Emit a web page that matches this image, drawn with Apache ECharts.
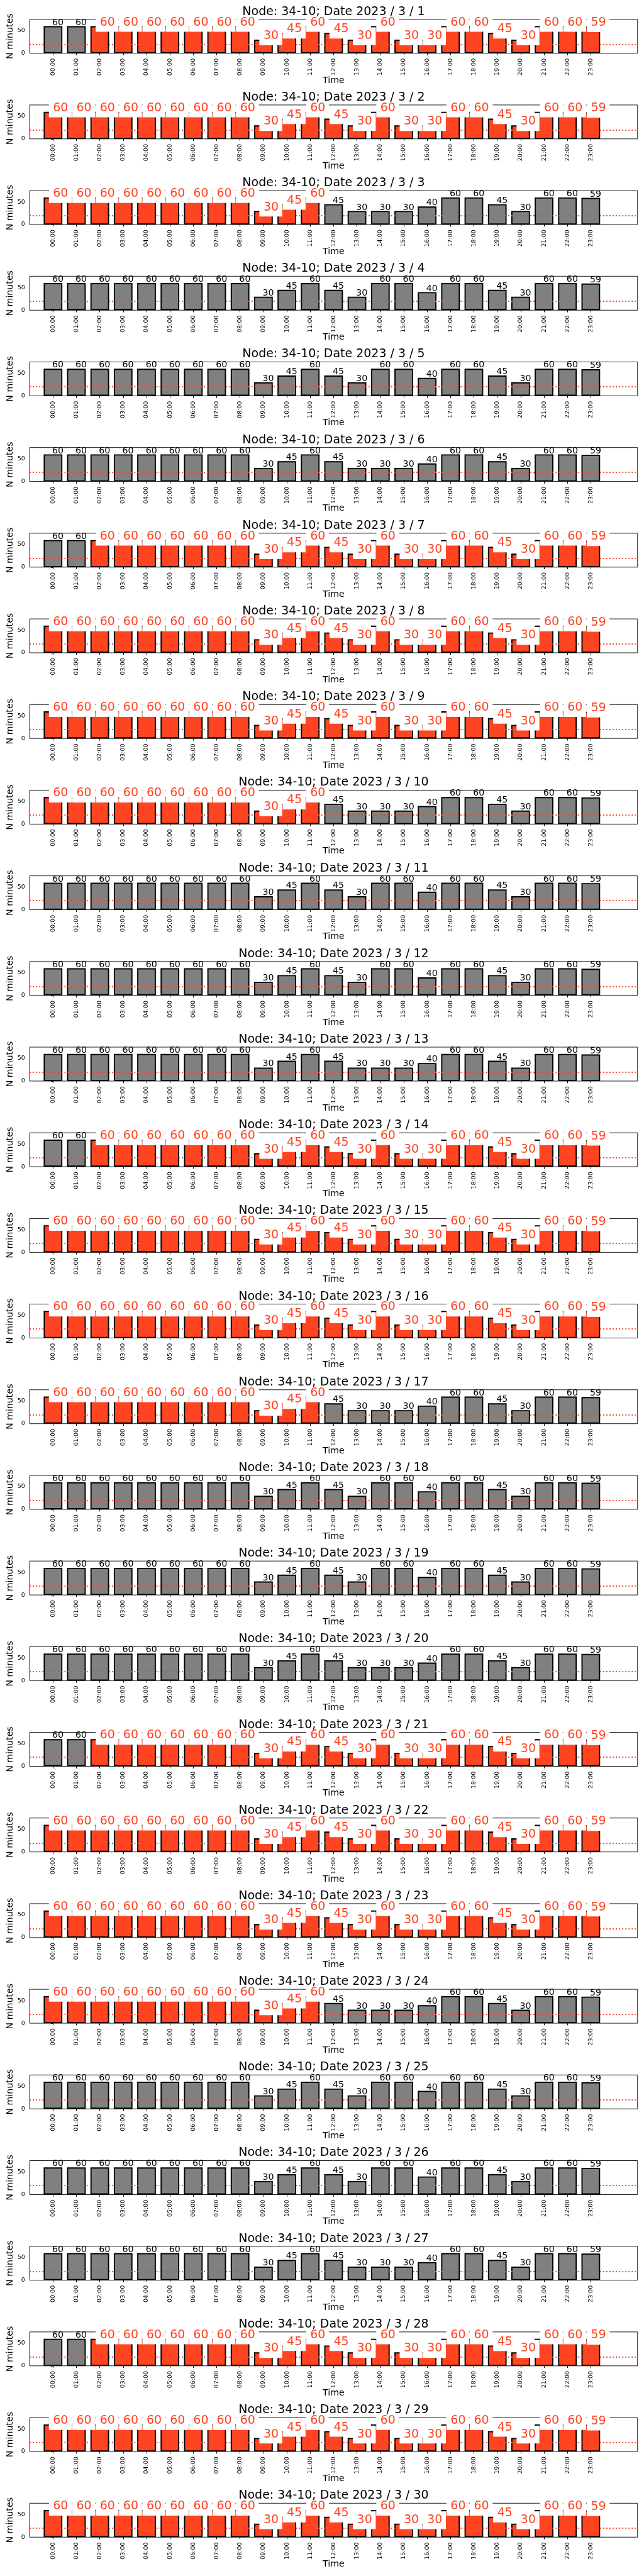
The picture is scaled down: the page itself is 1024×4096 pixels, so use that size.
<!DOCTYPE html>
<html>
<head>
<meta charset="utf-8">
<script src="https://cdn.jsdelivr.net/npm/echarts@6/dist/echarts.min.js"></script>
<style>
html,body{margin:0;padding:0;background:#fff;}
#chart{width:1024px;height:4096px;}
</style>
</head>
<body>
<div id="chart"></div>
<script>
// ---------- data ----------
const node = '34-10';
const year = 2023;
const month = 3;
const dayNumbers = [1,2,3,4,5,6,7,8,9,10,11,12,13,14,15,16,17,18,19,20,21,22,23,24,25,26,27,28,29,30];
const hours = ['00:00','01:00','02:00','03:00','04:00','05:00','06:00','07:00','08:00','09:00','10:00','11:00',
               '12:00','13:00','14:00','15:00','16:00','17:00','18:00','19:00','20:00','21:00','22:00','23:00'];
const yTicks = [0, 50];
const yMax = 75;
const threshold = 20;

const day01 = [60,60,60,60,60,60,60,60,60,30,45,60,45,30,60,30,30,60,60,45,30,60,60,59];
const day02 = [60,60,60,60,60,60,60,60,60,30,45,60,45,30,60,30,30,60,60,45,30,60,60,59];
const day03 = [60,60,60,60,60,60,60,60,60,30,45,60,45,30,30,30,40,60,60,45,30,60,60,59];
const day04 = [60,60,60,60,60,60,60,60,60,30,45,60,45,30,60,60,40,60,60,45,30,60,60,59];
const day05 = [60,60,60,60,60,60,60,60,60,30,45,60,45,30,60,60,40,60,60,45,30,60,60,59];
const day06 = [60,60,60,60,60,60,60,60,60,30,45,60,45,30,30,30,40,60,60,45,30,60,60,59];
const day07 = [60,60,60,60,60,60,60,60,60,30,45,60,45,30,60,30,30,60,60,45,30,60,60,59];
const day08 = [60,60,60,60,60,60,60,60,60,30,45,60,45,30,60,30,30,60,60,45,30,60,60,59];
const day09 = [60,60,60,60,60,60,60,60,60,30,45,60,45,30,60,30,30,60,60,45,30,60,60,59];
const day10 = [60,60,60,60,60,60,60,60,60,30,45,60,45,30,30,30,40,60,60,45,30,60,60,59];
const day11 = [60,60,60,60,60,60,60,60,60,30,45,60,45,30,60,60,40,60,60,45,30,60,60,59];
const day12 = [60,60,60,60,60,60,60,60,60,30,45,60,45,30,60,60,40,60,60,45,30,60,60,59];
const day13 = [60,60,60,60,60,60,60,60,60,30,45,60,45,30,30,30,40,60,60,45,30,60,60,59];
const day14 = [60,60,60,60,60,60,60,60,60,30,45,60,45,30,60,30,30,60,60,45,30,60,60,59];
const day15 = [60,60,60,60,60,60,60,60,60,30,45,60,45,30,60,30,30,60,60,45,30,60,60,59];
const day16 = [60,60,60,60,60,60,60,60,60,30,45,60,45,30,60,30,30,60,60,45,30,60,60,59];
const day17 = [60,60,60,60,60,60,60,60,60,30,45,60,45,30,30,30,40,60,60,45,30,60,60,59];
const day18 = [60,60,60,60,60,60,60,60,60,30,45,60,45,30,60,60,40,60,60,45,30,60,60,59];
const day19 = [60,60,60,60,60,60,60,60,60,30,45,60,45,30,60,60,40,60,60,45,30,60,60,59];
const day20 = [60,60,60,60,60,60,60,60,60,30,45,60,45,30,30,30,40,60,60,45,30,60,60,59];
const day21 = [60,60,60,60,60,60,60,60,60,30,45,60,45,30,60,30,30,60,60,45,30,60,60,59];
const day22 = [60,60,60,60,60,60,60,60,60,30,45,60,45,30,60,30,30,60,60,45,30,60,60,59];
const day23 = [60,60,60,60,60,60,60,60,60,30,45,60,45,30,60,30,30,60,60,45,30,60,60,59];
const day24 = [60,60,60,60,60,60,60,60,60,30,45,60,45,30,30,30,40,60,60,45,30,60,60,59];
const day25 = [60,60,60,60,60,60,60,60,60,30,45,60,45,30,60,60,40,60,60,45,30,60,60,59];
const day26 = [60,60,60,60,60,60,60,60,60,30,45,60,45,30,60,60,40,60,60,45,30,60,60,59];
const day27 = [60,60,60,60,60,60,60,60,60,30,45,60,45,30,30,30,40,60,60,45,30,60,60,59];
const day28 = [60,60,60,60,60,60,60,60,60,30,45,60,45,30,60,30,30,60,60,45,30,60,60,59];
const day29 = [60,60,60,60,60,60,60,60,60,30,45,60,45,30,60,30,30,60,60,45,30,60,60,59];
const day30 = [60,60,60,60,60,60,60,60,60,30,45,60,45,30,60,30,30,60,60,45,30,60,60,59];

// first and last highlighted hour of each day (-1: none)
const highlightFrom = [2,0,0,-1,-1,-1,2,0,0,0,-1,-1,-1,2,0,0,0,-1,-1,-1,2,0,0,0,-1,-1,-1,2,0,0];
const highlightTo   = [23,23,11,-1,-1,-1,23,23,23,11,-1,-1,-1,23,23,23,11,-1,-1,-1,23,23,23,11,-1,-1,-1,23,23,23];

const days = [day01,day02,day03,day04,day05,day06,day07,day08,day09,day10,
              day11,day12,day13,day14,day15,day16,day17,day18,day19,day20,
              day21,day22,day23,day24,day25,day26,day27,day28,day29,day30];

// ---------- styling / layout ----------
const S = 1024 / 1500;
const FONT = 'DejaVu Sans';
const RED = '#ff4422';
const GREY = '#808080';
const STEP = 199.5;
const hourIndex = hours.map((h, i) => i);
const fmt = p => String(p.value[1]);

const redLabel = {
  show: true, position: 'top', distance: 0, align: 'left', verticalAlign: 'bottom',
  offset: [-9.5 * S, 13 * S], padding: [6 * S, 8.3 * S, 7.7 * S, 9.5 * S],
  backgroundColor: '#ffffff', color: RED, fontFamily: FONT,
  fontSize: 27.8 * S, lineHeight: 27.8 * S, formatter: fmt
};
const blackLabel = {
  show: true, position: 'top', distance: 0, align: 'left', verticalAlign: 'bottom',
  offset: [-2 * S, 2.2 * S], color: '#000', fontFamily: FONT,
  fontSize: 20.8 * S, lineHeight: 20.8 * S, formatter: fmt
};

const option = {
  animation: false, backgroundColor: '#ffffff',
  title: [], grid: [], xAxis: [], yAxis: [], series: []
};

days.forEach((vals, k) => {
  const isRed = i => highlightFrom[k] >= 0 && i >= highlightFrom[k] && i <= highlightTo[k];
  option.title.push({
    text: 'Node: ' + node + '; Date ' + year + ' / ' + month + ' / ' + dayNumbers[k],
    left: 777 * S, top: (27.5 + STEP * k) * S, textAlign: 'center', textVerticalAlign: 'middle',
    padding: 0, z: 8,
    textStyle: { fontFamily: FONT, fontSize: 27.8 * S, fontWeight: 'normal', color: '#000' }
  });
  option.grid.push({
    left: 69 * S, width: 1416 * S, top: (45 + STEP * k) * S, height: 79 * S,
    show: true, borderColor: '#000', borderWidth: 0.9, backgroundColor: 'transparent',
    containLabel: false, outerBoundsMode: 'none'
  });
  option.xAxis.push({
    gridIndex: k, type: 'value', min: -1, max: 25,
    axisLine: { show: false }, splitLine: { show: false },
    axisTick: { show: true, customValues: hourIndex, length: 4.86 * S, lineStyle: { color: '#000', width: 1 } },
    axisLabel: { show: true, customValues: hourIndex, formatter: v => hours[v], rotate: 90,
      margin: 12 * S, fontFamily: FONT, fontSize: 13.9 * S, color: '#000' },
    name: 'Time', nameLocation: 'middle', nameGap: 53 * S, nameMoveOverlap: false,
    nameTextStyle: { fontFamily: FONT, fontSize: 20.8 * S, color: '#000' }
  });
  option.yAxis.push({
    gridIndex: k, type: 'value', min: 0, max: yMax,
    axisLine: { show: false }, splitLine: { show: false },
    axisTick: { show: true, customValues: yTicks, length: 4.86 * S, lineStyle: { color: '#000', width: 1 } },
    axisLabel: { show: true, customValues: yTicks, margin: 10.8 * S, fontFamily: FONT, fontSize: 13.9 * S, color: '#000' },
    name: 'N minutes', nameLocation: 'middle', nameGap: 34.2 * S, nameMoveOverlap: false,
    nameTextStyle: { fontFamily: FONT, fontSize: 20.8 * S, color: '#000' }
  });
  option.series.push({
    type: 'bar', xAxisIndex: k, yAxisIndex: k, z: 2, barWidth: '80%', barGap: '-100%', silent: true,
    itemStyle: { borderColor: '#000', borderWidth: 2.78 * S },
    data: vals.map((v, i) => ({ value: [i, v], itemStyle: { color: isRed(i) ? RED : GREY } })),
    markLine: {
      silent: true, z: 3, symbol: ['none', 'none'], label: { show: false }, animation: false,
      lineStyle: { color: RED, width: 2.78 * S, type: [2.78 * S, 4.6 * S] },
      emphasis: { disabled: true },
      data: [{ yAxis: threshold }]
    }
  });
  option.series.push({
    type: 'bar', xAxisIndex: k, yAxisIndex: k, z: 4, barWidth: '80%', barGap: '-100%', silent: true,
    itemStyle: { color: 'rgba(0,0,0,0)', borderWidth: 0 },
    data: vals.map((v, i) => ({ value: [i, v], label: isRed(i) ? redLabel : blackLabel }))
  });
});

const chart = echarts.init(document.getElementById('chart'), null, { renderer: 'canvas', devicePixelRatio: 1 });
chart.setOption(option);
</script>
</body>
</html>
